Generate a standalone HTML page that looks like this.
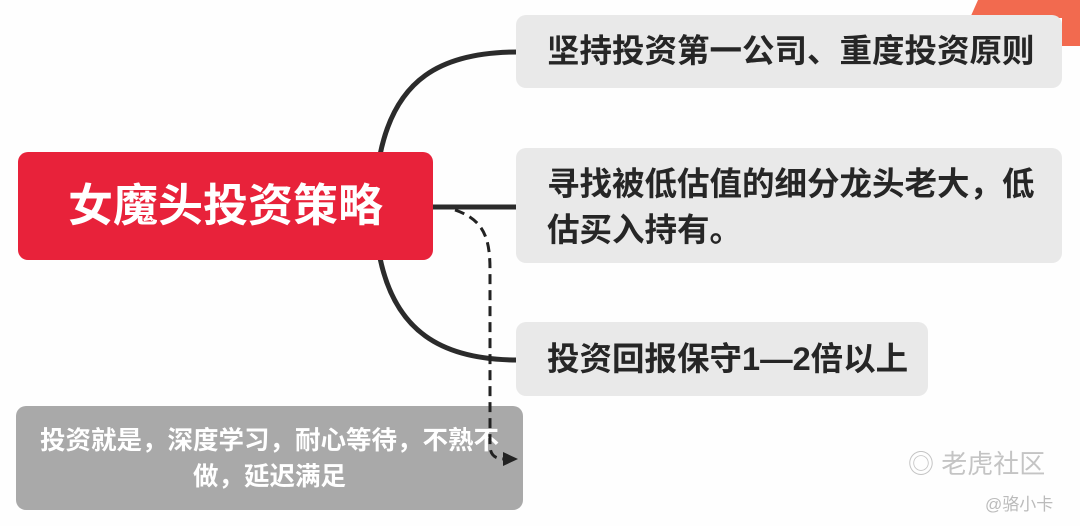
<!DOCTYPE html>
<html><head><meta charset="utf-8"><style>
body{margin:0;width:1080px;height:526px;background:#fefefe;position:relative;overflow:hidden;font-family:"Liberation Sans","Noto Sans CJK SC",sans-serif;}
.b{position:absolute;box-sizing:border-box;border-radius:10px;}
.g{background:#e9e9e9;color:#262626;font-size:32.5px;font-weight:bold;padding-left:31px;line-height:46px;}
</style></head><body>
<svg width="1080" height="526" style="position:absolute;left:0;top:0">
<polygon points="978,0 1080,0 1080,46 1062,46 1062,18 970,18" fill="#f26a4f"/>
<path d="M380,155 C395,80 440,52 518,52" fill="none" stroke="#2b2b2b" stroke-width="5"/>
<path d="M433,207 L518,207" fill="none" stroke="#2b2b2b" stroke-width="5"/>
<path d="M380,258 C395,330 440,360 518,360" fill="none" stroke="#2b2b2b" stroke-width="5"/>
</svg>
<div class="b" style="left:18px;top:152px;width:415px;height:108px;background:#e8223a;color:#fff;font-size:45px;font-weight:bold;line-height:108px;text-align:center;">女魔头投资策略</div>
<div class="b g" style="left:516px;top:15px;width:546px;height:73px;line-height:73px;">坚持投资第一公司、重度投资原则</div>
<div class="b g" style="left:516px;top:148px;width:546px;height:115px;padding-top:13px;">寻找被低估值的细分龙头老大，低<br>估买入持有。</div>
<div class="b g" style="left:516px;top:322px;width:412px;height:74px;line-height:74px;">投资回报保守1—2倍以上</div>
<div class="b" style="left:16px;top:406px;width:507px;height:104px;background:#a9a9a9;color:#fff;font-size:25.5px;font-weight:bold;text-align:center;line-height:36px;padding-top:17px;">投资就是，深度学习，耐心等待，不熟不<br>做，延迟满足</div>
<svg width="1080" height="526" style="position:absolute;left:0;top:0">
<path d="M455,210 C485,220 490,240 490,270 L490,445 C490,456 496,459 505,459" fill="none" stroke="#222" stroke-width="3" stroke-dasharray="10,6"/>
<polygon points="503,452 518,459 503,466" fill="#222"/>
</svg>
<div style="position:absolute;left:908px;top:444px;color:#c4c4c4;font-size:26px;">◎ 老虎社区</div>
<div style="position:absolute;left:985px;top:490px;color:#bbb;font-size:17px;">@骆小卡</div>
</body></html>
